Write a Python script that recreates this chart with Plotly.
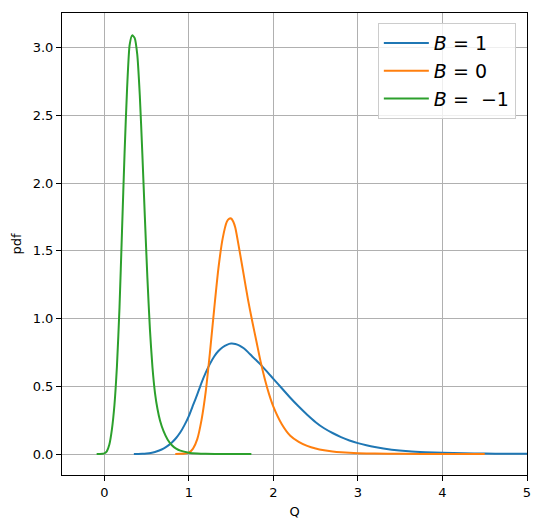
import plotly.graph_objects as go

# ---- data ----
labels = ["<i>B</i> = 1", "<i>B</i> = 0", "<i>B</i> =  \u22121"]
colors = ["#1f77b4", "#ff7f0e", "#2ca02c"]

q_b1 = [0.35, 0.40, 0.45, 0.50, 0.55, 0.60, 0.65, 0.70, 0.75, 0.80, 0.85, 0.90,
        0.95, 1.00, 1.05, 1.10, 1.15, 1.20, 1.25, 1.30, 1.35, 1.40, 1.45, 1.50,
        1.55, 1.60, 1.65, 1.70, 1.75, 1.80, 1.85, 1.90, 1.95, 2.00, 2.10, 2.20,
        2.30, 2.40, 2.50, 2.60, 2.70, 2.80, 2.90, 3.00, 3.10, 3.20, 3.40, 3.60,
        3.80, 4.00, 4.25, 4.50, 4.75, 5.00, 5.30]
pdf_b1 = [0.0, 0.0003, 0.0015, 0.004, 0.008, 0.015, 0.026, 0.04, 0.06, 0.085,
          0.118, 0.16, 0.215, 0.28, 0.36, 0.44, 0.525, 0.60, 0.665, 0.72, 0.76,
          0.788, 0.806, 0.815, 0.812, 0.80, 0.78, 0.752, 0.72, 0.69, 0.66,
          0.625, 0.59, 0.555, 0.485, 0.415, 0.35, 0.29, 0.235, 0.19, 0.155,
          0.125, 0.10, 0.08, 0.064, 0.051, 0.032, 0.02, 0.013, 0.0085, 0.005,
          0.003, 0.002, 0.0012, 0.0007]

q_b0 = [0.84, 0.90, 0.95, 1.00, 1.05, 1.10, 1.15, 1.20, 1.25, 1.30, 1.35, 1.40,
        1.45, 1.475, 1.50, 1.525, 1.55, 1.60, 1.65, 1.70, 1.75, 1.80, 1.85,
        1.90, 1.95, 2.00, 2.10, 2.20, 2.30, 2.40, 2.50, 2.60, 2.70, 2.80, 2.90,
        3.00, 3.20, 3.50, 4.00, 4.50]
pdf_b0 = [0.0, 0.001, 0.003, 0.01, 0.04, 0.11, 0.25, 0.46, 0.75, 1.07, 1.37,
          1.59, 1.715, 1.736, 1.738, 1.716, 1.67, 1.50, 1.32, 1.14, 0.98, 0.83,
          0.68, 0.55, 0.44, 0.35, 0.22, 0.135, 0.09, 0.06, 0.04, 0.027, 0.019,
          0.013, 0.009, 0.006, 0.003, 0.001, 0.0002, 0.0]

q_bm1 = [-0.09, -0.05, -0.02, 0.0, 0.03, 0.06, 0.09, 0.12, 0.15, 0.18, 0.21,
         0.24, 0.27, 0.30, 0.33, 0.36, 0.39, 0.42, 0.45, 0.48, 0.51, 0.54, 0.57,
         0.60, 0.63, 0.66, 0.70, 0.75, 0.80, 0.85, 0.90, 1.00, 1.10, 1.20, 1.40,
         1.74]
pdf_bm1 = [0.0, 0.0005, 0.002, 0.005, 0.02, 0.07, 0.18, 0.36, 0.65, 1.08, 1.65,
           2.22, 2.70, 3.02, 3.09, 3.07, 2.95, 2.65, 2.22, 1.75, 1.30, 0.92,
           0.64, 0.45, 0.33, 0.245, 0.17, 0.105, 0.065, 0.04, 0.025, 0.01,
           0.004, 0.0015, 0.0003, 0.0]

x_ticks = [0, 1, 2, 3, 4, 5]
y_ticks = [0.0, 0.5, 1.0, 1.5, 2.0, 2.5, 3.0]

series = [(q_b1, pdf_b1), (q_b0, pdf_b0), (q_bm1, pdf_bm1)]

fig = go.Figure()
for (xs, ys), name, col in zip(series, labels, colors):
    fig.add_trace(go.Scatter(
        x=xs, y=ys, mode="lines", name=name,
        line=dict(color=col, width=2, shape="spline", smoothing=0.6),
    ))

axis_common = dict(
    showline=True, mirror=True, linecolor="black", linewidth=1.1,
    showgrid=True, gridcolor="#b0b0b0", gridwidth=1.1,
    zeroline=False, ticks="outside", ticklen=5, tickwidth=1.1,
    tickcolor="black", tickfont=dict(family="DejaVu Sans", size=13, color="black"),
)

# the page body adds an 8px margin, so the figure is sized to fill the rest
fig.update_layout(
    width=532, height=520,
    margin=dict(l=54, r=13, t=5, b=53),
    paper_bgcolor="white", plot_bgcolor="white",
    font=dict(family="DejaVu Sans", color="black"),
    xaxis=dict(range=[-0.5, 5], tickvals=x_ticks,
               ticktext=[str(v) for v in x_ticks],
               title=dict(text="Q", font=dict(size=13), standoff=8),
               **axis_common),
    yaxis=dict(range=[-0.155, 3.255], tickvals=y_ticks,
               ticktext=["%.1f" % v for v in y_ticks],
               title=dict(text="pdf", font=dict(size=13), standoff=8),
               **axis_common),
    legend=dict(
        x=0.976, y=0.978, xanchor="right", yanchor="top",
        bgcolor="rgba(255,255,255,0.8)", bordercolor="#cccccc", borderwidth=1,
        font=dict(family="DejaVu Sans", size=19, color="black"),
        tracegroupgap=4, itemwidth=45,
    ),
    showlegend=True,
)

fig.write_html("out.html")
